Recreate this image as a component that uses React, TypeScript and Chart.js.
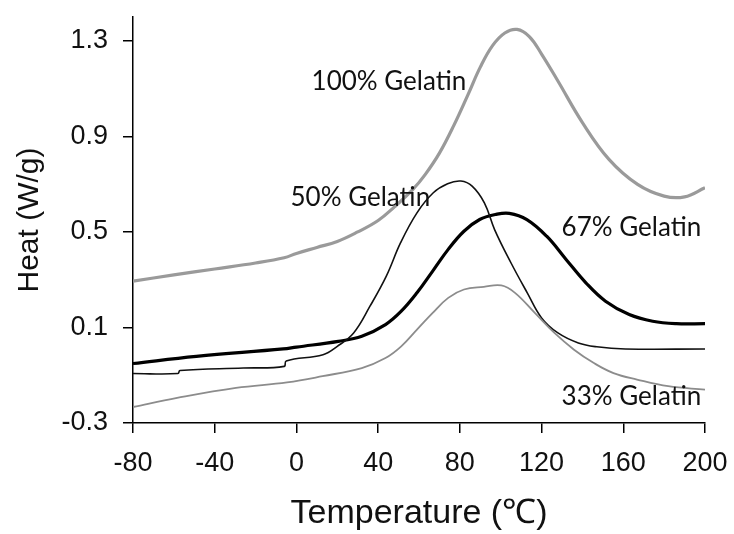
import React, { useEffect, useRef } from "react";
import { Chart, registerables } from "chart.js";

Chart.register(...registerables);

// ---- data ----
const T_100 = [-80, -60, -40, -20, -6, 0, 10, 20, 30, 40, 48, 57, 63, 70, 77, 84, 90, 96, 102, 108, 114, 120, 128, 140, 153, 167, 180, 190, 200];
const H_100 = [0.294, 0.32, 0.345, 0.37, 0.392, 0.41, 0.435, 0.46, 0.5, 0.548, 0.605, 0.678, 0.74, 0.83, 0.945, 1.075, 1.19, 1.28, 1.333, 1.348, 1.318, 1.245, 1.132, 0.958, 0.804, 0.699, 0.65, 0.647, 0.685];

const T_50 = [-80, -58, -57, -26, -6, -5, 13, 20, 28, 36, 44, 51, 59, 67, 74, 80.5, 86, 92, 97, 105, 113, 120, 128, 138, 147, 161, 200];
const H_50 = [-0.093, -0.093, -0.08, -0.07, -0.063, -0.04, -0.014, 0.021, 0.077, 0.189, 0.315, 0.455, 0.58, 0.664, 0.702, 0.713, 0.692, 0.622, 0.51, 0.371, 0.245, 0.14, 0.077, 0.035, 0.019, 0.01, 0.01];

const T_67 = [-80, -49, -6.5, 0, 20.5, 32, 43.6, 51.3, 59, 66.7, 74.3, 82, 89.7, 97.4, 104.2, 112.8, 122.5, 132, 141.7, 151.3, 162.9, 174.4, 186, 200];
const H_67 = [-0.051, -0.021, 0.01, 0.018, 0.042, 0.063, 0.112, 0.168, 0.245, 0.336, 0.427, 0.503, 0.552, 0.573, 0.578, 0.552, 0.482, 0.385, 0.287, 0.21, 0.154, 0.126, 0.116, 0.116];

const T_33 = [-80, -58.4, -29.6, -4.6, 12.8, 32, 43.6, 51.3, 59, 66.7, 74.3, 82, 91.7, 100.3, 107, 116.7, 126.3, 135.9, 145.6, 155.2, 166.7, 182, 200];
const H_33 = [-0.233, -0.195, -0.153, -0.13, -0.104, -0.07, -0.028, 0.021, 0.091, 0.161, 0.224, 0.259, 0.27, 0.276, 0.245, 0.161, 0.077, 0.007, -0.049, -0.091, -0.118, -0.146, -0.16];

const X_TICKS = [-80, -40, 0, 40, 80, 120, 160, 200];
const Y_TICKS = [-0.3, 0.1, 0.5, 0.9, 1.3];

const LABEL_TEXT = ["100% Gelatin", "50% Gelatin", "67% Gelatin", "33% Gelatin"];
const LABEL_T = [7.4, -2.9, 129.8, 129.8];
const LABEL_H = [1.128, 0.645, 0.519, -0.191];

const toPts = (xs: number[], ys: number[]) => xs.map((x, i) => ({ x, y: ys[i] }));

const labelPlugin = {
  id: "curveLabels",
  afterDatasetsDraw(chart: any) {
    const { ctx, scales } = chart;
    ctx.save();
    ctx.font = "26px Lato, 'Open Sans', sans-serif";
    ctx.fillStyle = "#111";
    ctx.textAlign = "left";
    ctx.textBaseline = "middle";
    LABEL_TEXT.forEach((t, i) => {
      ctx.fillText(t, scales.x.getPixelForValue(LABEL_T[i]), scales.y.getPixelForValue(LABEL_H[i]));
    });
    ctx.restore();
  },
};

export default function App() {
  const ref = useRef<HTMLCanvasElement | null>(null);
  useEffect(() => {
    document.body.style.margin = "0";
    const font = "'Liberation Sans', Arial, sans-serif";
    const common = { pointRadius: 0, fill: false, tension: 0.4 };
    const chart = new Chart(ref.current!, {
      type: "line",
      data: {
        datasets: [
          { ...common, label: "100% Gelatin", data: toPts(T_100, H_100), borderColor: "#9a9a9a", borderWidth: 3.2 },
          { ...common, label: "33% Gelatin", data: toPts(T_33, H_33), borderColor: "#8c8c8c", borderWidth: 1.8 },
          { ...common, label: "50% Gelatin", data: toPts(T_50, H_50), borderColor: "#111", borderWidth: 1.6 },
          { ...common, label: "67% Gelatin", data: toPts(T_67, H_67), borderColor: "#000", borderWidth: 3.2 },
        ],
      },
      options: {
        animation: false,
        responsive: false,
        maintainAspectRatio: false,
        layout: { padding: { left: 0, right: 29, top: 17, bottom: 0 } },
        plugins: { legend: { display: false }, tooltip: { enabled: false } },
        scales: {
          x: {
            type: "linear",
            min: -80,
            max: 200,
            afterBuildTicks: (s: any) => { s.ticks = X_TICKS.map((v) => ({ value: v })); },
            afterFit: (s: any) => { s.height = 111; s.paddingLeft = 0; s.paddingRight = 0; },
            ticks: { color: "#111", font: { family: font, size: 27 }, padding: 14, maxRotation: 0, autoSkip: false },
            grid: { drawOnChartArea: false, drawTicks: true, tickLength: 10, color: "#000", lineWidth: 1.5 },
            border: { display: true, color: "#000", width: 1.5 },
            title: { display: true, text: "Temperature (\u2103)", color: "#111", font: { family: font, size: 34 }, padding: { top: 0, bottom: 0 } },
          },
          y: {
            type: "linear",
            min: -0.3,
            max: 1.4,
            afterBuildTicks: (s: any) => { s.ticks = Y_TICKS.map((v) => ({ value: v })); },
            afterFit: (s: any) => { s.width = 133; s.paddingTop = 0; s.paddingBottom = 0; },
            ticks: { color: "#111", font: { family: font, size: 27 }, padding: 15, callback: (v: any) => Number(v).toFixed(1), autoSkip: false },
            grid: { drawOnChartArea: false, drawTicks: true, tickLength: 10, color: "#000", lineWidth: 1.5 },
            border: { display: true, color: "#000", width: 1.5 },
            title: { display: true, text: "Heat (W/g)", color: "#111", font: { family: font, size: 30 }, padding: { top: 12, bottom: 0 } },
          },
        },
      },
      plugins: [labelPlugin],
    });
    return () => chart.destroy();
  }, []);
  return (
    <div style={{ position: "absolute", left: 0, top: 0, width: 734, height: 534, background: "#fff" }}>
      <canvas ref={ref} width={734} height={534} style={{ width: 734, height: 534 }} />
    </div>
  );
}
